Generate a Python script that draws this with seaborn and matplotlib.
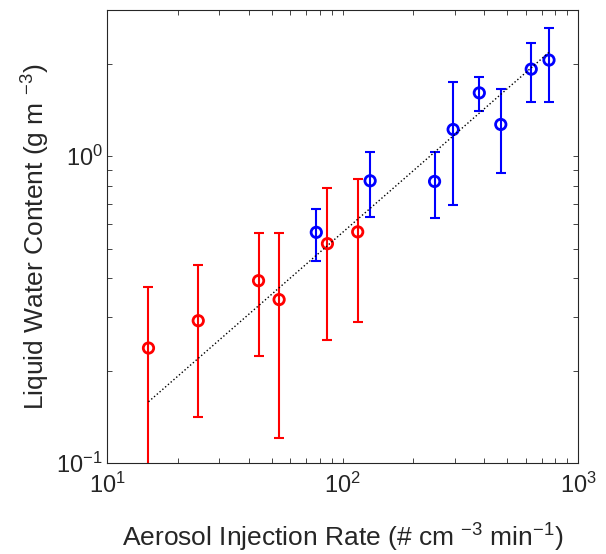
import numpy as np
import pandas as pd
import matplotlib
matplotlib.use("Agg")
import matplotlib.pyplot as plt
import seaborn as sns
from matplotlib.ticker import LogLocator, NullFormatter, LogFormatterSciNotation

# ---- data ----
red_x = [15, 24.4, 44, 53.8, 86.3, 116]
red_y = [0.237, 0.291, 0.393, 0.341, 0.519, 0.567]
red_err = [0.139, 0.150, 0.170, 0.220, 0.268, 0.279]

blue_x = [77.4, 131, 246, 295, 381, 470, 633, 753]
blue_y = [0.565, 0.832, 0.828, 1.223, 1.61, 1.27, 1.924, 2.06]
blue_err = [0.109, 0.199, 0.201, 0.53, 0.21, 0.387, 0.42, 0.555]

# power-law fit  y = fit_a * x ** fit_b
fit_a = 0.0258
fit_b = 0.67

x_ticks = [10, 100, 1000]
y_ticks = [0.1, 1]

sns.set_style("ticks")
plt.rcParams["font.family"] = ["Liberation Sans", "DejaVu Sans"]
plt.rcParams["mathtext.fontset"] = "custom"
plt.rcParams["mathtext.rm"] = "Liberation Sans"
plt.rcParams["mathtext.it"] = "Liberation Sans:italic"
plt.rcParams["mathtext.bf"] = "Liberation Sans:bold"

txt = "#262626"
fig = plt.figure(figsize=(6.06, 5.54), dpi=100)
ax = fig.add_axes([0.1766, 0.1643, 0.9538 - 0.1766, 0.982 - 0.1643])
ax.set_xscale("log")
ax.set_yscale("log")

red = pd.DataFrame({"x": red_x, "y": red_y, "err": red_err})
blue = pd.DataFrame({"x": blue_x, "y": blue_y, "err": blue_err})

for df, c in [(red, (1, 0, 0)), (blue, (0, 0, 1))]:
    ax.errorbar(df["x"], df["y"], yerr=df["err"], fmt="none", ecolor=c,
                elinewidth=1.5, capsize=3.8, capthick=1.5, zorder=2)
    sns.scatterplot(data=df, x="x", y="y", ax=ax, marker="o", s=56,
                    color=c, facecolor="none", edgecolor=c, linewidth=2.0,
                    zorder=3, legend=False)

all_x = np.array(red_x + blue_x)
xf = np.array([all_x.min(), all_x.max()])
fit = pd.DataFrame({"x": xf, "y": fit_a * xf ** fit_b})
sns.lineplot(data=fit, x="x", y="y", ax=ax, color="k", linestyle=":",
             linewidth=1.0, zorder=4)

ax.set_xlim(10, 1000)
ax.set_ylim(0.1, 3.0)
ax.set_xticks(x_ticks)
ax.set_yticks(y_ticks)
ax.xaxis.set_major_formatter(LogFormatterSciNotation())
ax.yaxis.set_major_formatter(LogFormatterSciNotation())
ax.xaxis.set_minor_locator(LogLocator(base=10, subs=np.arange(2, 10)))
ax.yaxis.set_minor_locator(LogLocator(base=10, subs=np.arange(2, 10)))
ax.xaxis.set_minor_formatter(NullFormatter())
ax.yaxis.set_minor_formatter(NullFormatter())

ax.tick_params(which="both", direction="in", top=True, right=True,
               length=3.6, width=0.6, colors=txt, labelsize=17)
ax.tick_params(axis="x", which="major", pad=7)
ax.tick_params(axis="y", which="major", pad=3)
for s in ax.spines.values():
    s.set_visible(True)
    s.set_color(txt)
    s.set_linewidth(0.8)

ax.set_xlabel("Aerosol Injection Rate (# cm $^{-3}$ min$^{-1}$)", fontsize=19,
              color=txt, labelpad=17)
ax.set_ylabel("Liquid Water Content (g m $^{-3}$)", fontsize=19, color=txt,
              labelpad=3)

fig.savefig("out.png", dpi=100)
